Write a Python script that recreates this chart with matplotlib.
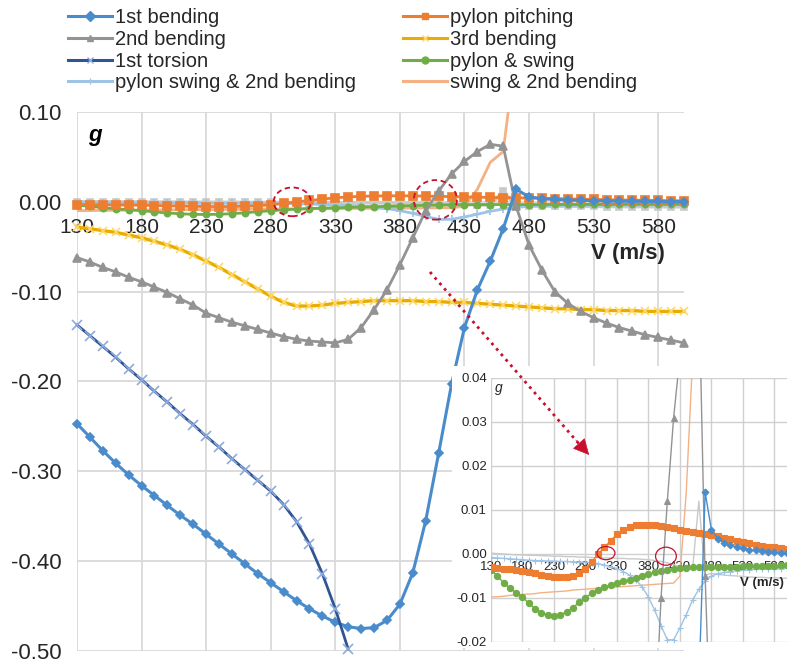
import numpy as np
import matplotlib
matplotlib.use("Agg")
import matplotlib.pyplot as plt
from matplotlib.lines import Line2D
from matplotlib.patches import Ellipse, FancyArrowPatch
from matplotlib.ticker import FormatStrFormatter

plt.rcParams["font.family"] = ["Liberation Sans", "DejaVu Sans"]
plt.rcParams["axes.unicode_minus"] = False

# flight speed (m/s)
V = [130, 140, 150, 160, 170, 180, 190, 200, 210, 220,
     230, 240, 250, 260, 270, 280, 290, 300, 310, 320,
     330, 340, 350, 360, 370, 380, 390, 400, 410, 420,
     430, 440, 450, 460, 470, 480, 490, 500, 510, 520,
     530, 540, 550, 560, 570, 580, 590, 600]

nan = np.nan

# damping g per mode
first_bending = [-0.247, -0.262, -0.277, -0.291, -0.304, -0.316, -0.327, -0.338, -0.349, -0.359,
                 -0.370, -0.381, -0.392, -0.403, -0.414, -0.424, -0.434, -0.444, -0.453, -0.461,
                 -0.468, -0.473, -0.475, -0.474, -0.466, -0.448, -0.413, -0.355, -0.280, -0.203,
                 -0.140, -0.098, -0.066, -0.030, 0.014, 0.0055, 0.0035, 0.0026, 0.0020, 0.0016,
                 0.0013, 0.0010, 0.0008, 0.0006, 0.0005, 0.0004, 0.0003, 0.0002]

second_bending = [-0.062, -0.067, -0.073, -0.078, -0.084, -0.089, -0.095, -0.101, -0.108, -0.115,
                  -0.124, -0.129, -0.134, -0.138, -0.142, -0.146, -0.150, -0.153, -0.155, -0.156,
                  -0.157, -0.153, -0.140, -0.120, -0.098, -0.070, -0.040, -0.010, 0.012, 0.031,
                  0.045, 0.056, 0.064, 0.062, -0.005, -0.048, -0.076, -0.100, -0.113, -0.122,
                  -0.129, -0.135, -0.140, -0.144, -0.148, -0.151, -0.154, -0.157]

first_torsion = [-0.137, -0.149, -0.161, -0.173, -0.186, -0.198, -0.211, -0.223, -0.236, -0.248,
                 -0.261, -0.273, -0.286, -0.298, -0.310, -0.322, -0.337, -0.356, -0.381, -0.414,
                 -0.453, -0.498, nan, nan, nan, nan, nan, nan, nan, nan,
                 nan, nan, nan, nan, nan, nan, nan, nan, nan, nan,
                 nan, nan, nan, nan, nan, nan, nan, nan]

pylon_swing_2nd = [-0.0008, -0.0009, -0.0010, -0.0011, -0.0012, -0.0013, -0.0014, -0.0015, -0.0015, -0.0016,
                   -0.0016, -0.0017, -0.0017, -0.0018, -0.0018, -0.0019, -0.0020, -0.0022, -0.0025, -0.0029,
                   -0.0033, -0.0040, -0.0048, -0.0058, -0.0075, -0.0098, -0.0128, -0.0163, -0.0195, -0.0195,
                   -0.0168, -0.0138, -0.0105, -0.0080, -0.0062, -0.0050, -0.0045, -0.0042, -0.0040, -0.0038,
                   -0.0037, -0.0036, -0.0035, -0.0034, -0.0034, -0.0033, -0.0033, -0.0032]

pylon_pitching = [-0.0030, -0.0032, -0.0034, -0.0035, -0.0036, -0.0038, -0.0041, -0.0044, -0.0047, -0.0050,
                  -0.0052, -0.0053, -0.0052, -0.0049, -0.0043, -0.0033, -0.0018, 0.0000, 0.0015, 0.0030,
                  0.0045, 0.0055, 0.0061, 0.0065, 0.0067, 0.0067, 0.0066, 0.0064, 0.0061, 0.0058,
                  0.0055, 0.0052, 0.0049, 0.0047, 0.0045, 0.0043, 0.0040, 0.0036, 0.0033, 0.0030,
                  0.0027, 0.0024, 0.0021, 0.0019, 0.0017, 0.0015, 0.0013, 0.0011]

third_bending = [-0.028, -0.030, -0.032, -0.034, -0.037, -0.040, -0.044, -0.048, -0.053, -0.059,
                 -0.066, -0.073, -0.081, -0.089, -0.097, -0.105, -0.112, -0.116, -0.116, -0.115,
                 -0.113, -0.112, -0.111, -0.110, -0.110, -0.110, -0.110, -0.111, -0.111, -0.112,
                 -0.112, -0.113, -0.114, -0.115, -0.116, -0.117, -0.118, -0.119, -0.119, -0.120,
                 -0.120, -0.121, -0.121, -0.121, -0.122, -0.122, -0.122, -0.122]

pylon_and_swing = [-0.0036, -0.0050, -0.0065, -0.0078, -0.0088, -0.0098, -0.0112, -0.0124, -0.0133, -0.0139,
                   -0.0141, -0.0138, -0.0132, -0.0122, -0.0110, -0.0099, -0.0089, -0.0081, -0.0075, -0.0070,
                   -0.0066, -0.0062, -0.0058, -0.0054, -0.0050, -0.0046, -0.0042, -0.0039, -0.0036, -0.0034,
                   -0.0032, -0.0031, -0.0030, -0.0030, -0.0030, -0.0030, -0.0030, -0.0029, -0.0029, -0.0029,
                   -0.0028, -0.0028, -0.0028, -0.0027, -0.0027, -0.0027, -0.0026, -0.0026]

swing_2nd = [-0.0098, -0.0097, -0.0096, -0.0094, -0.0093, -0.0092, -0.0091, -0.0090, -0.0088, -0.0087,
             -0.0086, -0.0085, -0.0084, -0.0082, -0.0081, -0.0080, -0.0079, -0.0078, -0.0077, -0.0076,
             -0.0075, -0.0074, -0.0073, -0.0072, -0.0071, -0.0070, -0.0069, -0.0068, -0.0067, -0.0066,
             -0.0050, 0.0140, 0.0440, 0.0560, 0.1700, nan, nan, nan, nan, nan,
             nan, nan, nan, nan, nan, nan, nan, nan]

# unlabelled light grey curve near zero
grey_extra = [0.0002, 0.0001, 0.0000, -0.0001, -0.0002, -0.0002, -0.0003, -0.0003, -0.0004, -0.0004,
              -0.0005, -0.0005, -0.0006, -0.0006, -0.0007, -0.0007, -0.0008, -0.0008, -0.0009, -0.0009,
              -0.0010, -0.0010, -0.0011, -0.0011, -0.0012, -0.0013, -0.0015, -0.0017, -0.0020, -0.0024,
              -0.0029, -0.0033, -0.0036, 0.0120, -0.0048, -0.0044, -0.0046, -0.0048, -0.0049, -0.0050,
              -0.0051, -0.0052, -0.0053, -0.0053, -0.0054, -0.0054, -0.0055, -0.0055]

x_ticks = [130, 180, 230, 280, 330, 380, 430, 480, 530, 580]
y_ticks = [-0.5, -0.4, -0.3, -0.2, -0.1, 0.0, 0.1]
inset_y_ticks = [-0.02, -0.01, 0.0, 0.01, 0.02, 0.03, 0.04]

TXT = "#262626"
GRID = "#D9D9D9"
RED = "#C8102E"

W, H = 787, 663


def fx(x):
    return x / W


def fy(y):
    return 1 - y / H


# label, data, color, marker, marker edge color, main ms, inset ms, main lw
series = [
    ("swing & 2nd bending", swing_2nd, "#F4B183", None, None, 0, 0, 2.0),
    (None, grey_extra, "#C9C9C9", "s", None, 4, 0, 2.5),
    ("pylon swing & 2nd bending", pylon_swing_2nd, "#9DC3E6", "+", None, 6, 4, 2.0),
    ("pylon & swing", pylon_and_swing, "#70AD47", "o", None, 4.5, 4.5, 2.0),
    ("pylon pitching", pylon_pitching, "#ED7D31", "s", None, 5.5, 4.5, 2.0),
    ("3rd bending", third_bending, "#E9AC00", "x", "#FFD966", 6, 4, 2.4),
    ("2nd bending", second_bending, "#939393", "^", None, 6, 4, 2.0),
    ("1st bending", first_bending, "#4A8CCB", "D", None, 4, 3.5, 2.2),
    ("1st torsion", first_torsion, "#2F5597", "x", "#8FAADC", 7, 4, 2.0),
]

fig = plt.figure(figsize=(7.87, 6.63), dpi=100)

# main chart
ax = fig.add_axes([fx(77), fy(651), (684 - 77) / W, (651 - 112) / H])
handles = {}
for label, data, color, marker, mec, ms, _, lw in series:
    line, = ax.plot(V, data, color=color, lw=lw, marker=marker, ms=ms,
                    mec=mec if mec else color, mfc=color, mew=1.2,
                    clip_on=(label == "swing & 2nd bending"), zorder=3)
    if label:
        handles[label] = line

ax.set_xlim(130, 600)
ax.set_ylim(-0.5, 0.1)
ax.set_xticks(x_ticks)
ax.set_yticks(y_ticks)
ax.yaxis.set_major_formatter(FormatStrFormatter("%.2f"))
ax.grid(True, color=GRID, lw=1.3, zorder=0)
ax.set_axisbelow(True)
for s in ax.spines.values():
    s.set_visible(False)
ax.spines["bottom"].set_position(("data", 0))
ax.tick_params(axis="x", length=0, pad=12, labelsize=15, colors=TXT)
ax.tick_params(axis="y", length=0, pad=11, labelsize=16, colors=TXT)

ax.add_patch(Ellipse((296.7, 0.0), 28.7, 0.032, fill=False, ec=RED, lw=1.3,
                     ls=(0, (3, 2)), zorder=5, clip_on=False))
ax.add_patch(Ellipse((407.5, 0.0022), 33.3, 0.044, fill=False, ec=RED, lw=1.3,
                     ls=(0, (3, 2)), zorder=5, clip_on=False))

fig.text(fx(95), fy(135), "g", fontsize=16, fontweight="bold", style="italic",
         color="black", ha="center", va="center")
fig.text(fx(628), fy(253), "V (m/s)", fontsize=16, fontweight="bold",
         color=TXT, ha="center", va="center")

# legend
order = ["1st bending", "2nd bending", "1st torsion", "pylon swing & 2nd bending",
         "pylon pitching", "3rd bending", "pylon & swing", "swing & 2nd bending"]
leg_handles = []
for name in order:
    h = handles[name]
    leg_handles.append(Line2D([], [], color=h.get_color(), lw=2.2, marker=h.get_marker(),
                              ms=5, mec=h.get_markeredgecolor(), mfc=h.get_color()))
fig.legend(leg_handles, order, ncol=2, loc="upper left",
           bbox_to_anchor=(fx(68), fy(8)), frameon=False, fontsize=14.5,
           handlelength=2.2, handletextpad=0.15, columnspacing=2.3,
           labelspacing=0.14, borderpad=0, borderaxespad=0, labelcolor=TXT)

# white backing for the zoomed view
bg = fig.add_axes([fx(452), fy(648), (787 - 452) / W, (648 - 366) / H], zorder=2)
bg.set_facecolor("white")
bg.set_xticks([])
bg.set_yticks([])
for s in bg.spines.values():
    s.set_visible(False)

# zoomed inset
ins = fig.add_axes([fx(491), fy(642), (787 - 491) / W, (642 - 378) / H], zorder=3)
ins.set_facecolor("white")
for label, data, color, marker, mec, _, ms_in, _ in series:
    ins.plot(V, data, color=color, lw=1.0, marker=marker if ms_in else None, ms=ms_in,
             mec=mec if mec else color, mfc=color, mew=0.8, zorder=3)
ins.set_xlim(130, 600)
ins.set_ylim(-0.02, 0.04)
ins.set_xticks(x_ticks)
ins.set_yticks(inset_y_ticks)
ins.yaxis.set_major_formatter(FormatStrFormatter("%.2f"))
ins.grid(True, color="#D0D0D0", lw=1.0, zorder=0)
ins.set_axisbelow(True)
for s in ins.spines.values():
    s.set_visible(False)
ins.spines["bottom"].set_position(("data", 0))
ins.tick_params(axis="x", length=0, pad=5, labelsize=9.5, colors=TXT)
ins.tick_params(axis="y", length=0, pad=3, labelsize=9.5, colors=TXT)

ins.add_patch(Ellipse((312.5, 0.0002), 28.6, 0.003, fill=False, ec=RED, lw=0.9,
                      zorder=5, clip_on=False))
ins.add_patch(Ellipse((407.8, -0.0005), 33.0, 0.0041, fill=False, ec=RED, lw=0.9,
                      zorder=5, clip_on=False))

fig.text(fx(499), fy(388), "g", fontsize=10, style="italic", color=TXT,
         ha="center", va="center", zorder=4)
fig.text(fx(762), fy(583), "V (m/s)", fontsize=9.5, fontweight="bold", color=TXT,
         ha="center", va="center", zorder=4)

# dotted arrow pointing into the zoomed view
fig.add_artist(Line2D([fx(430), fx(580)], [fy(272), fy(445)], transform=fig.transFigure,
                      color=RED, lw=2, ls=(0, (1, 1.6)), zorder=10))
fig.add_artist(FancyArrowPatch((fx(574), fy(438)), (fx(591), fy(457)),
                               transform=fig.transFigure, arrowstyle="-|>",
                               mutation_scale=26, color=RED, lw=0.5, zorder=11))

fig.savefig("out.png", dpi=100)
